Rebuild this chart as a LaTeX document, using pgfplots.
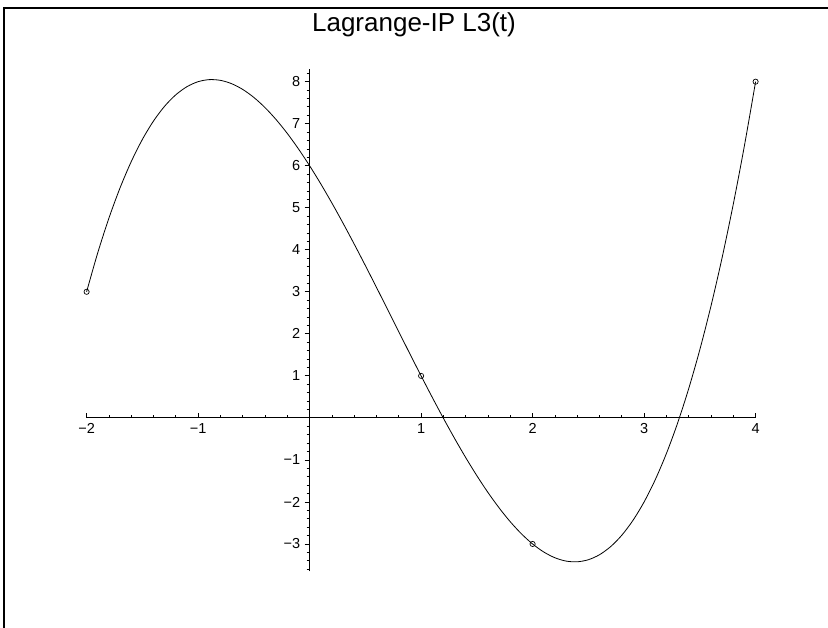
\documentclass[border=0pt]{standalone}
\usepackage{pgfplots}
\pgfplotsset{compat=1.18}
\usepackage{fontspec}
\setmainfont{Liberation Sans}

% Cubic Lagrange interpolant L3(t), sampled every 0.1
\pgfplotstableread{
t      L
-2.0   3.000
-1.9   3.929
-1.8   4.752
-1.7   5.473
-1.6   6.096
-1.5   6.625
-1.4   7.064
-1.3   7.417
-1.2   7.688
-1.1   7.881
-1.0   8.000
-0.9   8.049
-0.8   8.032
-0.7   7.953
-0.6   7.816
-0.5   7.625
-0.4   7.384
-0.3   7.097
-0.2   6.768
-0.1   6.401
 0.0   6.000
 0.1   5.569
 0.2   5.112
 0.3   4.633
 0.4   4.136
 0.5   3.625
 0.6   3.104
 0.7   2.577
 0.8   2.048
 0.9   1.521
 1.0   1.000
 1.1   0.489
 1.2  -0.008
 1.3  -0.487
 1.4  -0.944
 1.5  -1.375
 1.6  -1.776
 1.7  -2.143
 1.8  -2.472
 1.9  -2.759
 2.0  -3.000
 2.1  -3.191
 2.2  -3.328
 2.3  -3.407
 2.4  -3.424
 2.5  -3.375
 2.6  -3.256
 2.7  -3.063
 2.8  -2.792
 2.9  -2.439
 3.0  -2.000
 3.1  -1.471
 3.2  -0.848
 3.3  -0.127
 3.4   0.696
 3.5   1.625
 3.6   2.664
 3.7   3.817
 3.8   5.088
 3.9   6.481
 4.0   8.000
}\curvedata

% Interpolation nodes
\pgfplotstableread{
t   L
-2  3
 1  1
 2 -3
 4  8
}\nodedata

\begin{document}
\begin{tikzpicture}
\path[use as bounding box] (0pt,0pt) rectangle (828pt,628pt);
\draw[line width=2.2pt] (4pt,0pt) -- (4pt,620pt) -- (828pt,620pt);
\node[anchor=base,inner sep=0pt,font=\fontsize{26}{30}\selectfont] at (414pt,596.5pt) {Lagrange-IP L3(t)};
\begin{axis}[
  at={(309.6pt,210.1pt)}, anchor=origin,
  scale only axis, width=669pt, height=502.2pt,
  xmin=-2, xmax=4, ymin=-3.65, ymax=8.3,
  axis lines=middle,
  axis line style={-, line width=0.8pt},
  clip=false,
  xtick={-2,-1,1,2,3,4},
  xticklabels={−2,−1,1,2,3,4},
  ytick={-3,-2,-1,1,2,3,4,5,6,7,8},
  yticklabels={−3,−2,−1,1,2,3,4,5,6,7,8},
  minor xtick={-1.8,-1.6,...,4},
  minor ytick={-3.6,-3.4,...,8.21},
  xtick align=inside, ytick align=outside,
  major tick length=5pt, minor tick length=3pt,
  tick style={line width=0.8pt, black},
  ticklabel style={font=\fontsize{14.5}{16}\selectfont},
  xticklabel style={yshift=-2pt},
  yticklabel style={xshift=-1pt},
]
\addplot[black, line width=0.8pt, smooth] table[x=t, y=L] {\curvedata};
\addplot[only marks, mark=o, mark size=2.6pt, mark options={line width=0.7pt, black}] table[x=t, y=L] {\nodedata};
\end{axis}
\end{tikzpicture}
\end{document}
